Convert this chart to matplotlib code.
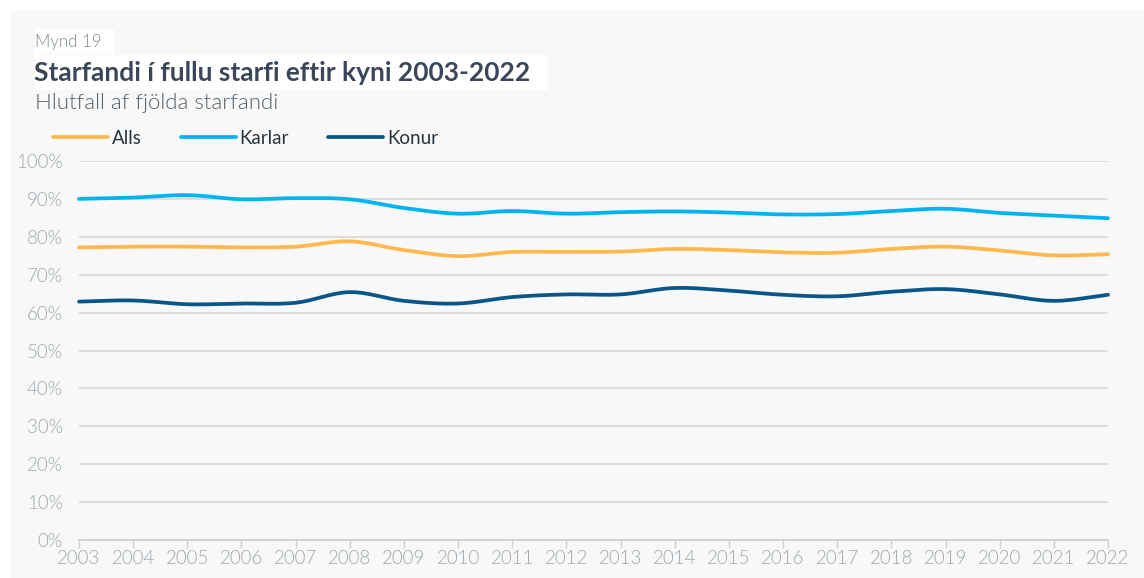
import numpy as np
import matplotlib
matplotlib.use("Agg")
import matplotlib.pyplot as plt
from matplotlib.patches import Rectangle

# Starfandi i fullu starfi eftir kyni, hlutfall (%)
years = list(range(2003, 2023))
alls = [77.2, 77.4, 77.4, 77.2, 77.4, 78.8, 76.5, 74.9, 76.0, 76.0,
        76.1, 76.8, 76.5, 75.9, 75.8, 76.8, 77.4, 76.4, 75.1, 75.4]
karlar = [90.0, 90.35, 91.0, 89.9, 90.2, 89.9, 87.6, 86.1, 86.8, 86.1,
          86.5, 86.7, 86.4, 85.9, 86.0, 86.8, 87.4, 86.3, 85.6, 84.9]
konur = [62.9, 63.2, 62.2, 62.4, 62.6, 65.4, 63.1, 62.4, 64.1, 64.8,
         64.8, 66.5, 65.8, 64.7, 64.3, 65.5, 66.2, 64.8, 63.1, 64.7]
series_names = ["Alls", "Karlar", "Konur"]
colors = ["#ffb84d", "#00b4ef", "#0a5689"]
ytick_vals = list(range(0, 101, 10))

plt.rcParams['font.family'] = ['Lato', 'DejaVu Sans']


def smooth(x, y, n=12):
    # cubic hermite through the points (catmull-rom style tangents)
    x = np.asarray(x, float)
    y = np.asarray(y, float)
    m = np.zeros_like(y)
    m[1:-1] = (y[2:] - y[:-2]) / (x[2:] - x[:-2])
    m[0] = (y[1] - y[0]) / (x[1] - x[0])
    m[-1] = (y[-1] - y[-2]) / (x[-1] - x[-2])
    xs, ys = [], []
    for i in range(len(x) - 1):
        h = x[i + 1] - x[i]
        t = np.linspace(0, 1, n, endpoint=False)
        h00 = 2*t**3 - 3*t**2 + 1
        h10 = t**3 - 2*t**2 + t
        h01 = -2*t**3 + 3*t**2
        h11 = t**3 - t**2
        xs.append(x[i] + t*h)
        ys.append(h00*y[i] + h10*h*m[i] + h01*y[i+1] + h11*h*m[i+1])
    xs.append([x[-1]])
    ys.append([y[-1]])
    return np.concatenate(xs), np.concatenate(ys)


fig = plt.figure(figsize=(11.44, 5.78), dpi=100)
fig.patch.set_facecolor("white")
# grey panel
fig.add_artist(Rectangle((11/1144, 0), 1 - 11/1144, 1 - 10/578,
                         transform=fig.transFigure, facecolor="#f8f8f8",
                         edgecolor="none", zorder=0))
# white boxes behind header
fig.add_artist(Rectangle((35/1144, 1 - 54/578), 79/1144, 25/578,
                         transform=fig.transFigure, facecolor="white",
                         edgecolor="none", zorder=0.5))
fig.add_artist(Rectangle((35/1144, 1 - 90/578), 513/1144, 35/578,
                         transform=fig.transFigure, facecolor="white",
                         edgecolor="none", zorder=0.5))

fig.text(35/1144, 1 - 42/578, "Mynd 19", fontsize=12.2, color="#7d8c92",
         fontweight=300, va="center", ha="left")
fig.text(34/1144, 1 - 73/578, "Starfandi í fullu starfi eftir kyni 2003-2022",
         fontsize=19, color="#3b4759", fontweight="bold", va="center", ha="left")
fig.text(35/1144, 1 - 103/578, "Hlutfall af fjölda starfandi", fontsize=16,
         color="#51606a", fontweight=300, va="center", ha="left")

ax = fig.add_axes([79/1144, 1 - 540/578, 1029/1144, 379/578])
ax.set_facecolor("none")

for name, vals, c in zip(series_names, [alls, karlar, konur], colors):
    sx, sy = smooth(years, vals)
    ax.plot(sx, sy, color=c, lw=2.7, solid_capstyle="round", clip_on=False,
            zorder=3, label=name)

ax.set_xlim(2003, 2022)
ax.set_ylim(0, 100)
ax.set_yticks(ytick_vals)
ax.set_yticklabels([f"{v}%" for v in ytick_vals])
ax.set_xticks(years)
ax.set_xticklabels([str(y) for y in years])
ax.grid(axis="y", color="#dadada", lw=1.3)
ax.set_axisbelow(True)
for s in ["top", "right", "left"]:
    ax.spines[s].set_visible(False)
ax.spines["bottom"].set_color("#d0d0d0")
ax.spines["bottom"].set_linewidth(1.3)
ax.tick_params(axis="y", length=0, pad=11.5, labelsize=13.5, labelcolor="#9aa9ae")
ax.tick_params(axis="x", length=6, width=1, color="#d0d0d0", pad=1,
               labelsize=13.5, labelcolor="#9aa9ae")
for lab in ax.get_xticklabels() + ax.get_yticklabels():
    lab.set_fontweight(300)

leg = fig.legend(loc="center left", bbox_to_anchor=(53/1144, 1 - 138/578),
                 bbox_transform=fig.transFigure, ncol=3, frameon=False,
                 fontsize=13.5, handlelength=2.93, handletextpad=0.21,
                 columnspacing=2.08, borderpad=0, borderaxespad=0)
for t in leg.get_texts():
    t.set_color("#27343d")

fig.savefig("out.png", dpi=100, facecolor=fig.get_facecolor())
